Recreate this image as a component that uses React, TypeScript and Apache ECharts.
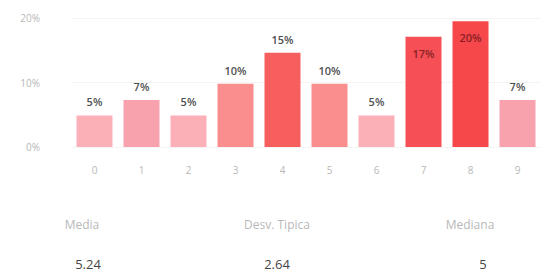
import React, { useEffect, useRef } from "react";
import * as echarts from "echarts";

const categories = ["0", "1", "2", "3", "4", "5", "6", "7", "8", "9"];
const shares = [4.9, 7.3, 4.9, 9.8, 14.6, 9.8, 4.9, 17.1, 19.5, 7.3];
const barColors = ["#fbb0b8", "#f8a2ad", "#fbb0b8", "#fa8e8e", "#f75f5f", "#fa8e8e", "#fbb0b8", "#f65056", "#f6474b", "#f8a2ad"];
const yTicks = [0, 10, 20];
const statLabels = ["Media", "Desv. Tipica", "Mediana"];
const statValues = ["5.24", "2.64", "5"];

export default function App() {
  const ref = useRef<HTMLDivElement>(null);
  useEffect(() => {
    if (!ref.current) return;
    const chart = echarts.init(ref.current, null, { renderer: "svg" });
    const font = "'Open Sans', 'Noto Sans', sans-serif";
    const statX = [82, 277, 470];
    const valX = [88, 277, 483];
    chart.setOption({
      animation: false,
      grid: { left: 71, right: 9, top: 18, bottom: 128 },
      xAxis: {
        type: "category",
        data: categories,
        axisLine: { show: false },
        axisTick: { show: false },
        axisLabel: { color: "#b8b8b8", fontSize: 10, margin: 18, fontFamily: font },
      },
      yAxis: {
        type: "value",
        min: yTicks[0],
        max: yTicks[yTicks.length - 1],
        interval: 10,
        axisLabel: {
          color: "#b8b8b8",
          fontSize: 10,
          margin: 31,
          fontFamily: font,
          formatter: (v: number) => `${v}%`,
        },
        splitLine: { lineStyle: { color: "#f4f4f4" } },
        axisLine: { show: false },
        axisTick: { show: false },
      },
      series: [
        {
          type: "bar",
          barWidth: 36,
          data: shares.map((v, i) => {
            const inside = v >= 16;
            return {
              value: v,
              itemStyle: { color: barColors[i] },
              label: {
                show: true,
                position: inside ? "insideTop" : "top",
                distance: inside ? 11 : 8,
                color: inside ? "#8a1f24" : "#505050",
                fontSize: 11,
                fontWeight: 600,
                fontFamily: font,
                formatter: () => `${Math.round(v)}%`,
              },
            };
          }),
        },
      ],
      graphic: [
        ...statLabels.map((t, i) => ({
          type: "text",
          x: statX[i],
          y: 224,
          style: {
            text: t,
            fill: "#b8b8b8",
            fontSize: 12,
            fontFamily: font,
            textAlign: "center",
            textVerticalAlign: "middle",
          },
        })),
        ...statValues.map((t, i) => ({
          type: "text",
          x: valX[i],
          y: 264,
          style: {
            text: t,
            fill: "#454545",
            fontSize: 13,
            fontFamily: font,
            textAlign: "center",
            textVerticalAlign: "middle",
          },
        })),
      ],
    });
    return () => chart.dispose();
  }, []);
  return (
    <div
      ref={ref}
      style={{ position: "fixed", left: 0, top: 0, width: 550, height: 275, background: "#fff" }}
    />
  );
}
